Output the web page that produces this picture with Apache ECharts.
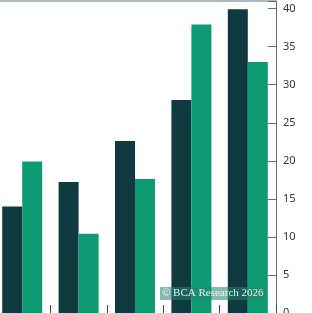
<html>
<head>
  <meta charset="utf-8">
  <title>bars</title>
  <script type="text/javascript" src="https://cdn.jsdelivr.net/npm/echarts@6/dist/echarts.min.js"></script>
</head>
<body style="margin:0">
<div id="chartmain" style="width:312px; height:313px;"></div>
<script type="text/javascript">
  // five groups, two series
  var categories = ['A', 'B', 'C', 'D', 'E'];
  var darkSeries = [14, 17.2, 22.6, 28, 39.9];
  var greenSeries = [19.9, 10.4, 17.6, 37.9, 33];
  var yTicks = [0, 5, 10, 15, 20, 25, 30, 35, 40];

  var myChart = echarts.init(document.getElementById('chartmain'));
  var option = {
    animation: false,
    grid: {
      left: -6,
      right: 36,
      top: 1,
      bottom: 0,
      outerBoundsMode: 'none',
      containLabel: false
    },
    xAxis: [{
      type: 'category',
      data: categories,
      axisLine: { show: false },
      axisTick: { show: true, inside: true, length: 8, lineStyle: { color: '#444' } },
      axisLabel: { show: false }
    }, {
      // only the thin rule along the top
      type: 'category',
      data: categories,
      position: 'top',
      axisLine: { show: true, lineStyle: { color: '#8fa3ab', width: 1.5 } },
      axisTick: { show: false },
      axisLabel: { show: false }
    }],
    yAxis: {
      type: 'value',
      position: 'right',
      min: 0,
      max: 41,
      interval: 5,
      splitLine: { show: false },
      axisLine: { show: true, lineStyle: { color: '#5f6f75', width: 1 } },
      axisTick: { show: true, inside: true, length: 8, lineStyle: { color: '#5f6f75' } },
      axisLabel: {
        margin: 7,
        color: '#333',
        fontFamily: 'Noto Sans',
        fontSize: 11,
        formatter: function (v) { return yTicks.indexOf(v) >= 0 ? String(v) : ''; }
      }
    },
    series: [
      {
        name: 'dark',
        type: 'bar',
        data: darkSeries,
        barWidth: 20,
        barGap: '0%',
        itemStyle: { color: '#0f3a40' }
      },
      {
        name: 'green',
        type: 'bar',
        data: greenSeries,
        barWidth: 20,
        itemStyle: { color: '#0e9a72' }
      }
    ],
    graphic: [{
      type: 'text',
      left: 160,
      top: 287,
      z: 100,
      style: {
        text: '© BCA Research 2026',
        fill: '#e3f3ec',
        font: '11px "Liberation Serif"',
        backgroundColor: 'rgba(40,130,115,0.55)',
        padding: [1, 2]
      }
    }]
  };
  myChart.setOption(option);
</script>
</body>
</html>
